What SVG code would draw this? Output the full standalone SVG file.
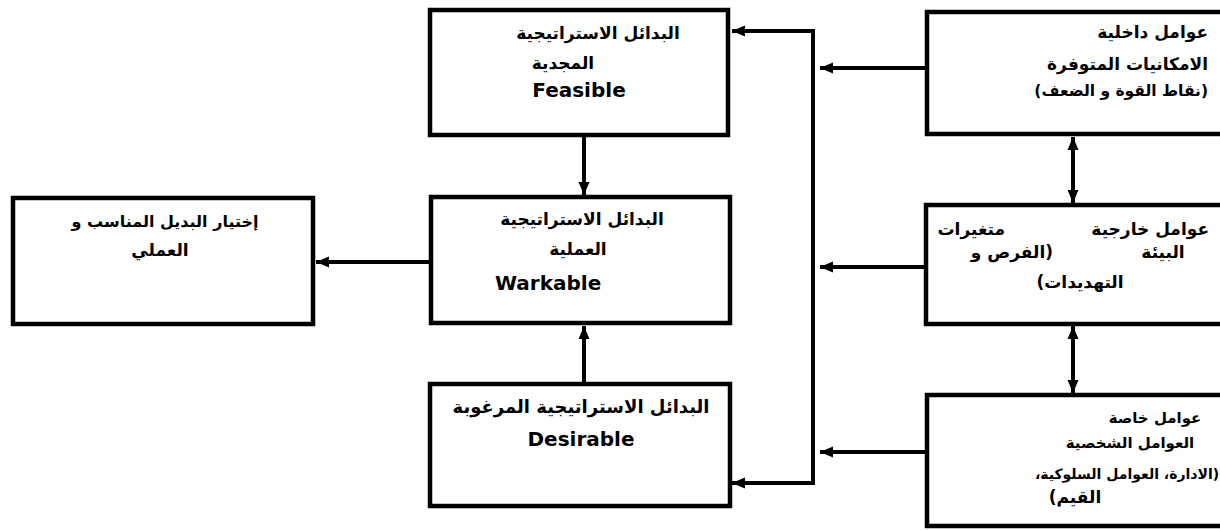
<svg xmlns="http://www.w3.org/2000/svg" width="1220" height="530" viewBox="0 0 1220 530">
  <defs>
    <marker id="ah" viewBox="0 0 13 12" refX="13" refY="6" markerWidth="13" markerHeight="12" markerUnits="userSpaceOnUse" orient="auto-start-reverse">
      <path d="M0,0.5 L13,6 L0,11.5 z" fill="#000"/>
    </marker>
  </defs>
  <style>
    .box { fill: #fff; stroke: #000; stroke-width: 4.5; }
    .ar { font-family: "DejaVu Sans", sans-serif; font-weight: bold; font-size: 17px; fill: #000; direction: rtl; }
    .en { font-family: "DejaVu Sans", sans-serif; font-weight: bold; font-size: 20px; fill: #000; }
    .c { text-anchor: middle; }
    .r { text-anchor: start; }
    .ln { fill: none; stroke: #000; stroke-width: 4; }
    .arr { fill: none; stroke: #000; stroke-width: 4; marker-end: url(#ah); }
    .dbl { fill: none; stroke: #000; stroke-width: 4; marker-start: url(#ah); marker-end: url(#ah); }
  </style>

  <rect width="1220" height="530" fill="#fff"/>

  <!-- connectors -->
  <g id="connectors">
    <!-- vertical bus feeding the two outer alternative boxes -->
    <path class="ln" d="M813,31 V483"/>
    <path class="arr" d="M815,31 H732"/>
    <path class="arr" d="M815,483 H732"/>
    <!-- factors into the bus -->
    <path class="arr" d="M925,68 H820"/>
    <path class="arr" d="M924,267 H820"/>
    <path class="arr" d="M925,452 H820"/>
    <!-- between the factor boxes -->
    <path class="dbl" d="M1073,137 V203"/>
    <path class="dbl" d="M1073,326 V393"/>
    <!-- feasible and desirable into workable -->
    <path class="arr" d="M584,137 V195"/>
    <path class="arr" d="M584,382 V326"/>
    <!-- workable to the final choice -->
    <path class="arr" d="M429,262 H316"/>
  </g>

  <g id="feasible">
    <rect class="box" x="430" y="10" width="298" height="125"/>
    <text class="ar c" x="598" y="39">البدائل الاستراتيجية</text>
    <text class="ar c" x="563" y="69">المجدية</text>
    <text class="en c" x="579" y="97">Feasible</text>
  </g>

  <g id="workable">
    <rect class="box" x="431" y="197" width="299" height="126"/>
    <text class="ar c" x="582" y="225">البدائل الاستراتيجية</text>
    <text class="ar c" x="578" y="255">العملية</text>
    <text class="en" x="495" y="290">Warkable</text>
  </g>

  <g id="desirable">
    <rect class="box" x="430" y="384" width="300" height="122"/>
    <text class="ar c" x="581" y="413" style="font-size:18px">البدائل الاستراتيجية المرغوبة</text>
    <text class="en c" x="581" y="446">Desirable</text>
  </g>

  <g id="choice">
    <rect class="box" x="13" y="198" width="300" height="126"/>
    <text class="ar c" x="165" y="227" style="font-size:16px">إختيار البديل المناسب و</text>
    <text class="ar c" x="160" y="256">العملي</text>
  </g>

  <g id="internal">
    <rect class="box" x="927" y="12" width="300" height="122"/>
    <text class="ar r" x="1208" y="38">عوامل داخلية</text>
    <text class="ar r" x="1208" y="70">الامكانيات المتوفرة</text>
    <text class="ar r" x="1208" y="96" style="font-size:15.5px">(نقاط القوة و الضعف)</text>
  </g>

  <g id="external">
    <rect class="box" x="926" y="205" width="300" height="119"/>
    <text class="ar r" x="1209" y="235">عوامل خارجية</text>
    <text class="ar r" x="1005" y="235">متغيرات</text>
    <text class="ar c" x="1163" y="258">البيئة</text>
    <text class="ar r" x="1053" y="258">(الفرص و</text>
    <text class="ar c" x="1080" y="288">التهديدات)</text>
  </g>

  <g id="specific">
    <rect class="box" x="927" y="395" width="300" height="131"/>
    <text class="ar c" x="1155" y="423" style="font-size:15px">عوامل خاصة</text>
    <text class="ar c" x="1130" y="448" style="font-size:15px">العوامل الشخصية</text>
    <text class="ar c" x="1127" y="479" style="font-size:14px">(الادارة، العوامل السلوكية،</text>
    <text class="ar c" x="1075" y="503">القيم)</text>
  </g>
</svg>
